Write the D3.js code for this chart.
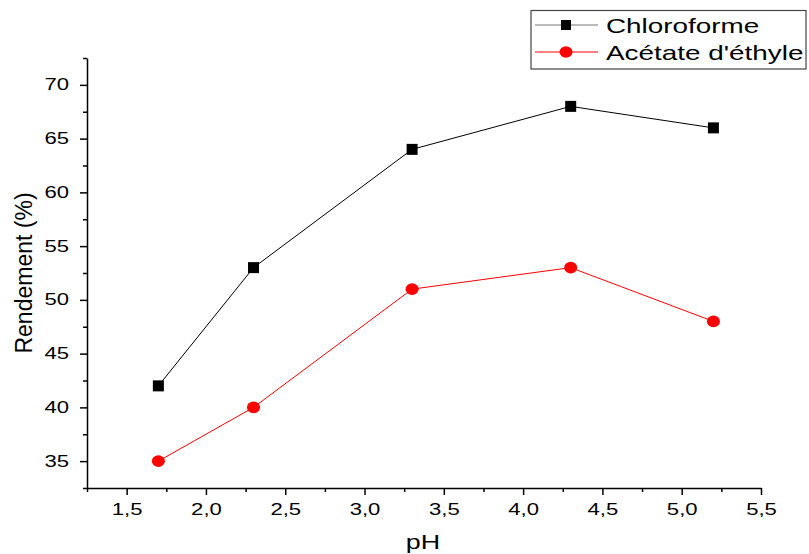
<!DOCTYPE html>
<html><head><meta charset="utf-8">
<script src="https://cdn.jsdelivr.net/npm/d3@7"></script>
<style>body{margin:0;background:#fff}svg{display:block;font-family:"Liberation Sans",Arial,sans-serif}</style>
</head><body>
<svg id="c" width="809" height="554"></svg>
<script>
const phValues = [1.7, 2.3, 3.3, 4.3, 5.2];
const chloroforme = [42, 53, 64, 68, 66];
const acetate = [35, 40, 51, 53, 48];
const seriesNames = ["Chloroforme", "Acétate d'éthyle"];
const xTicks = [1.5, 2.0, 2.5, 3.0, 3.5, 4.0, 4.5, 5.0, 5.5];
const xMinor = [1.25, 1.75, 2.25, 2.75, 3.25, 3.75, 4.25, 4.75, 5.25];
const yTicks = [35, 40, 45, 50, 55, 60, 65, 70];
const yMinor = [32.5, 37.5, 42.5, 47.5, 52.5, 57.5, 62.5, 67.5, 72.5];

const SX = 1.38; // horizontal text stretch seen in the reference
const svg = d3.select("#c");
const x = d3.scaleLinear().domain([1.25, 5.5]).range([87, 761]);
const y = d3.scaleLinear().domain([32.5, 72.5]).range([488, 58]);
const fmt = d => d3.format(".1f")(d).replace(".", ",");

// x axis
svg.append("g").attr("transform", "translate(0,488)")
  .call(d3.axisBottom(x).tickValues(xMinor).tickSize(4).tickFormat(""))
  .call(g => g.select(".domain").remove());
const gx = svg.append("g").attr("transform", "translate(0,488)")
  .call(d3.axisBottom(x).tickValues(xTicks).tickSize(7).tickSizeOuter(0).tickPadding(9).tickFormat(fmt));
gx.selectAll("text").attr("font-size", 16).attr("fill", "#000")
  .attr("font-family", "Liberation Sans, Arial, sans-serif")
  .attr("transform", `scale(${SX},1)`);

// y axis
svg.append("g").attr("transform", "translate(87,0)")
  .call(d3.axisLeft(y).tickValues(yMinor).tickSize(4).tickFormat(""))
  .call(g => g.select(".domain").remove());
const gy = svg.append("g").attr("transform", "translate(87,0)")
  .call(d3.axisLeft(y).tickValues(yTicks).tickSize(7).tickSizeOuter(0).tickFormat(d3.format("d")));
gy.selectAll("text").attr("font-size", 16).attr("fill", "#000")
  .attr("font-family", "Liberation Sans, Arial, sans-serif")
  .attr("x", 0).attr("transform", `translate(-18,0) scale(${SX},1)`);

svg.selectAll(".tick line").attr("stroke", "#000").attr("stroke-width", 1.5);
svg.selectAll(".domain").attr("stroke", "#000").attr("stroke-width", 1.5);

// axis titles
svg.append("text").attr("transform", `translate(423,549) scale(${SX},1)`).attr("text-anchor", "middle")
  .attr("font-size", 19.5).text("pH");
svg.append("text").attr("transform", "translate(32,273) rotate(-90)").attr("text-anchor", "middle")
  .attr("font-size", 23).text("Rendement (%)");

const line = d3.line().x((d, i) => x(phValues[i])).y(d => y(d));

svg.append("path").datum(chloroforme).attr("d", line).attr("fill", "none").attr("stroke", "#000").attr("stroke-width", 1);
svg.append("path").datum(acetate).attr("d", line).attr("fill", "none").attr("stroke", "#ff0000").attr("stroke-width", 1);

svg.selectAll(".sq").data(chloroforme).join("rect")
  .attr("x", (d, i) => x(phValues[i]) - 5.5).attr("y", d => y(d) - 5.5)
  .attr("width", 11).attr("height", 11).attr("fill", "#000");
svg.selectAll(".ci").data(acetate).join("ellipse")
  .attr("cx", (d, i) => x(phValues[i])).attr("cy", d => y(d))
  .attr("rx", 6.5).attr("ry", 5.8).attr("fill", "#ff0000");

// legend
const lg = svg.append("g");
lg.append("rect").attr("x", 531).attr("y", 10.5).attr("width", 275).attr("height", 58.5)
  .attr("fill", "#fff").attr("stroke", "#444").attr("stroke-width", 1.2);
const rows = [{name: seriesNames[0], c: "#777", m: "sq"}, {name: seriesNames[1], c: "#ff0000", m: "ci"}];
rows.forEach((r, i) => {
  const yy = 25 + i * 27;
  lg.append("line").attr("x1", 535).attr("x2", 598).attr("y1", yy).attr("y2", yy).attr("stroke", r.c).attr("stroke-width", 1);
  if (r.m === "sq") lg.append("rect").attr("x", 561).attr("y", yy - 5).attr("width", 10).attr("height", 10).attr("fill", "#000");
  else lg.append("ellipse").attr("cx", 566).attr("cy", yy).attr("rx", 6.5).attr("ry", 5.8).attr("fill", "#ff0000");
  lg.append("text").attr("transform", `translate(606,${yy + 7.5}) scale(1.36,1)`).attr("font-size", 20.5).text(r.name);
});
</script>
</body></html>
